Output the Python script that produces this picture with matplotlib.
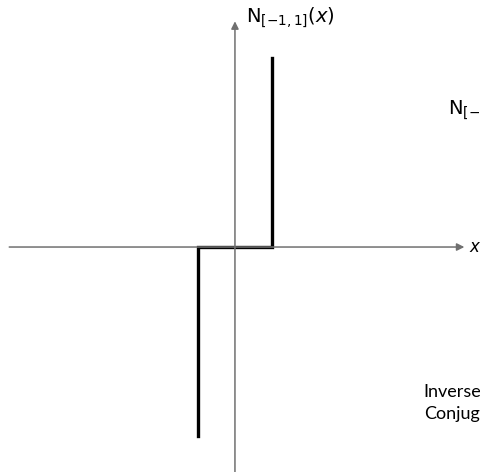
import matplotlib.pyplot as plt

plt.rcParams['mathtext.fontset'] = 'dejavusans'
plt.rcParams['font.family'] = ['Lato', 'DejaVu Sans']

# normal cone of the interval [-1, 1]
cone_x = [-1, -1, 1, 1]
cone_y = [-5.1, 0, 0, 5.1]

axis_x = [-6.1, 6.2]
axis_y = [-6.1, 6.1]

fig = plt.figure(figsize=(4.81, 4.72), dpi=100)
ax = fig.add_axes([0, 0, 1, 1])
ax.set_xlim(-6.35, 6.65)
ax.set_ylim(-6.08, 6.676)
ax.axis('off')

axcol = '#707070'
ax.annotate('', xy=(axis_x[1], 0), xytext=(axis_x[0], 0),
            arrowprops=dict(arrowstyle='-|>', color=axcol, lw=1.1,
                            mutation_scale=11, shrinkA=0, shrinkB=0))
ax.annotate('', xy=(0, axis_y[1]), xytext=(0, axis_y[0]),
            arrowprops=dict(arrowstyle='-|>', color=axcol, lw=1.1,
                            mutation_scale=11, shrinkA=0, shrinkB=0))

ax.plot(cone_x, cone_y, color='black', lw=2.4, solid_joinstyle='miter')

ax.text(6.33, 0, r'$x$', fontsize=12, va='center', ha='left')
ax.text(0.3, 6.2, r'$\mathsf{N}_{[-1,1]}(x)$', fontsize=14, va='center', ha='left')

# side notes running off the right edge
ax.text(5.75, 3.7, r'$\mathsf{N}_{[-1,1]}$', fontsize=14, va='center', ha='left')
ax.text(5.1, -3.92, 'Inverse', fontsize=13, va='center', ha='left')
ax.text(5.1, -4.5, 'Conjugate', fontsize=13, va='center', ha='left')

fig.savefig('out.png', dpi=100)
